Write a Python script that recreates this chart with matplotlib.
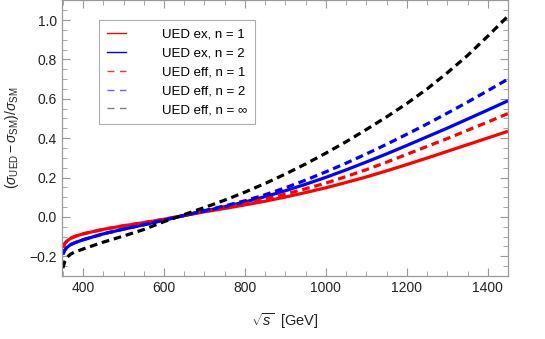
import matplotlib
matplotlib.use("Agg")
import matplotlib.pyplot as plt
from matplotlib.ticker import MultipleLocator
from matplotlib.lines import Line2D

plt.rcParams['font.family'] = ['Liberation Sans', 'DejaVu Sans']
plt.rcParams['mathtext.fontset'] = 'custom'
plt.rcParams['mathtext.rm'] = 'Liberation Sans'
plt.rcParams['mathtext.it'] = 'Liberation Sans:italic'

sqrt_s = [350, 355, 360, 370, 380, 400, 450, 500, 550, 600, 650, 700, 750, 800, 850,
          900, 950, 1000, 1050, 1100, 1150, 1200, 1250, 1300, 1350, 1400, 1450]

red_ex = [-0.155, -0.135, -0.123, -0.108, -0.099, -0.086, -0.063, -0.045, -0.029, -0.012,
          0.007, 0.026, 0.043, 0.061, 0.080, 0.101, 0.124, 0.148, 0.175, 0.203, 0.234,
          0.266, 0.299, 0.333, 0.367, 0.401, 0.435]
blue_ex = [-0.190, -0.168, -0.155, -0.140, -0.131, -0.116, -0.086, -0.062, -0.040, -0.016,
           0.007, 0.030, 0.052, 0.076, 0.103, 0.133, 0.166, 0.201, 0.239, 0.279, 0.320,
           0.363, 0.407, 0.451, 0.497, 0.543, 0.590]
red_eff = [-0.155, -0.135, -0.123, -0.108, -0.099, -0.086, -0.063, -0.045, -0.029, -0.012,
           0.008, 0.029, 0.048, 0.068, 0.091, 0.116, 0.143, 0.172, 0.205, 0.240, 0.278,
           0.318, 0.358, 0.398, 0.440, 0.482, 0.525]
blue_eff = [-0.190, -0.168, -0.155, -0.140, -0.131, -0.116, -0.086, -0.062, -0.040, -0.016,
            0.008, 0.032, 0.056, 0.082, 0.113, 0.148, 0.187, 0.229, 0.273, 0.320, 0.369,
            0.420, 0.472, 0.527, 0.583, 0.641, 0.700]
inf_eff = [-0.260, -0.225, -0.205, -0.188, -0.178, -0.163, -0.128, -0.097, -0.064, -0.024,
           0.012, 0.048, 0.085, 0.126, 0.170, 0.218, 0.269, 0.324, 0.382, 0.444, 0.508,
           0.576, 0.650, 0.732, 0.820, 0.918, 1.020]

legend_labels = ["UED ex, n = 1", "UED ex, n = 2", "UED eff, n = 1",
                 "UED eff, n = 2", "UED eff, n = \u221e"]

fig = plt.figure(figsize=(5.45, 3.39), dpi=100)
ax = fig.add_axes([62/545, 1 - 276/339, (508-62)/545, 276/339 - 0.001])

lw = 2.3
dash = (2.4, 1.5)
ax.plot(sqrt_s, red_ex, color='#ff0000', lw=lw, solid_capstyle='butt')
ax.plot(sqrt_s, blue_ex, color='#0000ff', lw=lw, solid_capstyle='butt')
ax.plot(sqrt_s, red_eff, color='#ff0000', lw=lw, dashes=dash)
ax.plot(sqrt_s, blue_eff, color='#0000ff', lw=lw, dashes=dash)
ax.plot(sqrt_s, inf_eff, color='#000000', lw=lw, dashes=dash)

ax.set_xlim(348, 1450)
ax.set_ylim(-0.30, 1.10)
ax.xaxis.set_major_locator(MultipleLocator(200))
ax.xaxis.set_minor_locator(MultipleLocator(50))
ax.yaxis.set_major_locator(MultipleLocator(0.2))
ax.yaxis.set_minor_locator(MultipleLocator(0.05))
ax.tick_params(which='both', direction='in', top=True, right=True, colors='#999999',
               labelcolor='#222222', labelsize=10)
ax.tick_params(which='major', length=6, width=0.8)
ax.tick_params(which='minor', length=3.5, width=0.6)
for sp in ax.spines.values():
    sp.set_color('#999999')
    sp.set_linewidth(0.9)

ax.set_xticks([400, 600, 800, 1000, 1200, 1400])
ax.set_xticklabels(['400', '600', '800', '1000', '1200', '1400'])
ax.set_yticks([-0.2, 0.0, 0.2, 0.4, 0.6, 0.8, 1.0])
ax.set_yticklabels(['\u22120.2', '0.0', '0.2', '0.4', '0.6', '0.8', '1.0'])

ax.set_xlabel(r'$\sqrt{s}$  [GeV]', fontsize=10.5, color='#222222', labelpad=12)
ax.set_ylabel(r'$(\sigma_{\mathrm{UED}} - \sigma_{\mathrm{SM}})/\sigma_{\mathrm{SM}}$',
              fontsize=10, color='#222222', labelpad=6)

handles = [Line2D([], [], color='#ff0000', lw=1.0),
           Line2D([], [], color='#0000ff', lw=1.0),
           Line2D([], [], color='#ff3333', lw=1.0, dashes=(5, 4)),
           Line2D([], [], color='#6666ff', lw=1.0, dashes=(5, 4)),
           Line2D([], [], color='#808080', lw=1.0, dashes=(5, 4))]
leg = ax.legend(handles, legend_labels, loc='upper left', bbox_to_anchor=(37/446, 1 - 20/276),
                prop={'size': 9.5}, frameon=True, fancybox=False, edgecolor='#999999',
                handlelength=1.45, handletextpad=2.7, labelspacing=0.5, borderpad=0.62,
                borderaxespad=0)
leg.get_frame().set_linewidth(0.8)

fig.savefig('out.png', dpi=100)
